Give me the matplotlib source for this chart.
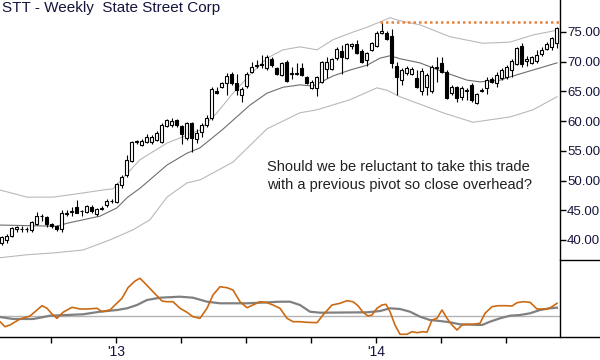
import numpy as np
import matplotlib
matplotlib.use("Agg")
import matplotlib.pyplot as plt
from matplotlib.lines import Line2D

plt.rcParams['font.family'] = ['Liberation Sans', 'DejaVu Sans']

# weekly OHLC, STT
opens = [39.5, 40.0, 40.7, 41.9, 41.8, 41.9, 41.6, 42.6, 44.0, 43.8,
         42.7, 42.3, 41.8, 44.3, 44.7, 45.5, 44.8, 44.7, 45.6, 44.4,
         45.2, 45.8, 46.5, 46.4, 49.3, 51.0, 53.3, 56.4, 56.0, 56.5,
         56.4, 56.8, 56.5, 59.2, 59.3, 60.2, 59.2, 57.2, 59.7, 57.0,
         58.2, 59.3, 60.5, 65.1, 65.7, 66.4, 67.9, 66.4, 64.4, 65.9,
         68.3, 69.3, 69.4, 68.9, 70.5, 68.9, 67.8, 70.0, 67.9, 68.0,
         68.9, 67.4, 65.6, 65.6, 66.6, 68.8, 68.8, 70.6, 71.8, 70.6,
         72.7, 73.0, 71.8, 70.3, 72.0, 72.6, 74.9, 74.8, 74.3, 69.3,
         66.9, 68.1, 67.9, 67.3, 65.1, 65.7, 65.1, 68.9, 69.8, 68.3,
         64.7, 65.7, 64.1, 65.1, 66.1, 63.0, 65.1, 65.6, 67.1, 66.4,
         67.3, 67.4, 68.6, 69.6, 72.6, 70.2, 69.8, 70.1, 71.3, 72.1,
         72.5, 73.1]
highs = [40.7, 41.0, 42.2, 42.4, 42.3, 42.2, 43.2, 44.7, 44.4, 44.1,
         42.9, 42.5, 45.0, 45.1, 45.5, 46.7, 45.1, 45.9, 45.8, 45.4,
         45.7, 46.9, 46.9, 49.6, 51.0, 54.3, 56.7, 56.8, 57.0, 57.8,
         57.6, 58.3, 59.7, 60.4, 60.5, 60.4, 59.3, 59.8, 59.9, 58.7,
         59.7, 61.0, 65.7, 65.7, 66.6, 68.1, 68.3, 67.9, 65.7, 68.3,
         70.0, 70.3, 71.1, 71.1, 70.8, 69.1, 70.0, 70.3, 69.1, 69.8,
         69.8, 67.6, 66.9, 67.6, 70.1, 70.8, 70.6, 72.5, 72.8, 73.1,
         73.1, 73.7, 72.1, 71.6, 73.3, 75.2, 76.7, 75.2, 75.5, 69.9,
         68.9, 69.3, 69.1, 68.6, 68.9, 68.1, 69.4, 70.8, 70.8, 68.6,
         66.1, 65.9, 65.9, 65.6, 66.4, 64.7, 65.6, 67.4, 67.4, 68.3,
         68.9, 69.4, 70.5, 72.5, 73.1, 71.0, 71.0, 72.0, 72.5, 73.3,
         74.2, 75.8]
lows = [39.2, 39.5, 40.5, 41.4, 41.4, 41.3, 41.3, 42.5, 43.2, 42.1,
        42.0, 41.5, 41.3, 44.0, 44.0, 44.5, 44.0, 44.5, 44.6, 44.0,
        45.0, 45.5, 46.2, 46.2, 48.7, 50.6, 53.1, 56.1, 55.8, 56.3,
        56.2, 56.6, 56.3, 59.0, 59.0, 59.0, 56.1, 56.8, 54.8, 56.3,
        57.3, 59.0, 60.2, 64.6, 65.6, 64.4, 66.1, 64.4, 63.2, 65.6,
        68.1, 68.9, 68.9, 68.6, 69.1, 67.8, 67.6, 66.6, 67.1, 67.8,
        67.6, 66.2, 65.4, 64.2, 66.4, 67.3, 68.6, 70.3, 67.9, 70.5,
        72.1, 71.3, 69.8, 69.3, 71.8, 72.5, 74.6, 73.7, 69.0, 64.4,
        66.1, 67.8, 67.8, 65.6, 64.4, 64.4, 64.7, 66.6, 68.1, 63.7,
        64.4, 63.2, 63.6, 63.6, 63.2, 62.9, 64.9, 64.6, 66.4, 65.7,
        66.9, 67.1, 67.4, 69.4, 69.1, 69.3, 69.6, 69.8, 71.0, 72.0,
        72.0, 72.3]
closes = [40.5, 40.7, 42.0, 42.1, 41.9, 41.8, 43.0, 44.1, 44.1, 42.6,
          42.3, 41.8, 44.5, 44.6, 44.9, 44.6, 44.9, 45.7, 44.8, 45.2,
          45.4, 46.6, 46.6, 49.4, 50.6, 53.5, 56.5, 56.6, 56.7, 57.3,
          57.3, 58.0, 59.3, 60.2, 60.0, 59.3, 57.8, 59.7, 57.2, 58.0,
          59.3, 60.5, 65.4, 64.7, 66.4, 67.6, 66.4, 65.2, 65.4, 67.9,
          69.1, 69.5, 69.6, 70.8, 69.4, 67.9, 69.8, 66.8, 68.1, 68.1,
          67.8, 66.4, 66.6, 67.4, 70.0, 70.0, 70.5, 72.1, 70.8, 73.0,
          72.9, 71.5, 69.9, 71.5, 73.1, 74.8, 75.1, 73.8, 69.8, 67.4,
          68.6, 68.9, 68.8, 65.7, 68.4, 67.8, 69.1, 69.1, 68.3, 63.9,
          65.7, 63.9, 65.6, 65.3, 63.6, 64.6, 65.3, 66.9, 66.6, 67.8,
          68.6, 69.1, 70.1, 72.3, 69.6, 70.4, 70.8, 71.1, 72.0, 73.0,
          74.0, 75.7]

# channel lines (week index, price)
mid_weeks = [0, 11.4, 13.4, 20, 23.4, 25.4, 28, 33.4, 37.4, 40, 44.4, 50, 53.4, 56.6, 60,
             62.6, 66.6, 70, 73.4, 76, 78, 80, 84, 88.6, 93.4, 96, 100, 103.4, 106.6, 111.4]
mid_vals = [42.5, 42.3, 42.8, 44.0, 45.4, 47.1, 48.7, 52.6, 54.6, 55.5, 58.5, 62.7, 64.7, 65.7, 66.1,
            65.9, 67.6, 68.6, 69.4, 70.6, 71.0, 70.5, 69.8, 68.3, 66.9, 66.6, 66.9, 67.8, 68.6, 69.8]
up_weeks = [0, 5.4, 10.6, 16.6, 20.6, 22.6, 28, 33.4, 40, 43.4, 46.6, 50, 53.4, 56.6, 60,
            63.4, 66.6, 70, 73.4, 76, 78, 80, 84, 90, 96.6, 102, 106.6, 111.4]
up_vals = [48.4, 47.2, 47.2, 47.9, 48.4, 48.6, 53.5, 56.3, 58.5, 61.4, 64.7, 67.8, 70.6, 72.0, 72.5,
           72.0, 73.7, 74.8, 75.8, 76.7, 77.4, 76.9, 76.2, 74.2, 73.1, 73.3, 74.5, 75.3]
lo_weeks = [0, 5.4, 10.6, 16.6, 22, 26.6, 30, 33.4, 37.4, 40, 46.6, 53.4, 60, 63.4, 70,
            75.4, 77.4, 80, 88.6, 94.6, 102, 106.6, 111.4]
lo_vals = [37.0, 37.5, 37.8, 38.3, 40.0, 41.7, 43.4, 47.2, 49.6, 50.1, 53.1, 58.7, 61.4, 61.9, 63.6,
           65.6, 65.2, 64.1, 61.4, 59.8, 60.7, 61.9, 64.1]

pivot_price = 76.7
pivot_start = 76

# lower panel oscillator and its signal line
osc_weeks = [0, 1, 2, 4, 6, 7.4, 8.4, 9.4, 10.4, 11.4,
             12.6, 14.4, 16, 17.4, 19.4, 20.4, 22, 23, 24.4, 25.6,
             27, 28, 29, 30.6, 32.4, 33.4, 34.6, 36, 37.4, 38.6,
             40, 41.4, 42.6, 44, 45.4, 46.6, 48, 49.4, 50.6, 52,
             53.4, 54.6, 56, 57.4, 58.6, 60, 61.4, 63.4, 64.6, 66.4,
             68, 69.4, 70.6, 71.6, 72.6, 73.6, 74.4, 75.4, 76.4, 77.2,
             78, 79, 80, 81.4, 82.4, 83.4, 84.6, 85.4, 86.4, 87.4,
             88.4, 89.4, 90.4, 91.4, 92.4, 93.4, 94.6, 96, 97, 98.4,
             99.6, 101, 102.4, 103.4, 104.6, 106, 107.4, 109.4, 110.4, 111.4]
osc_vals = [-5.7, -10.7, -9, -3, 0, 6, 10.3, 7.7, 2, -2.3,
            3.7, 8.7, 7, 7, 7.7, 4.3, 6, 11, 17.7, 28.3,
            35, 37.7, 32.7, 24.3, 15, 14.3, 14.3, 7.7, 3.7, -0.7,
            -2.3, 7.7, 21, 29.3, 28.3, 26, 14.3, 8.3, 11, 14.3,
            13.3, 11, 7.7, -2.3, -5.7, -5.7, -6.3, -6.7, 1, 11,
            12.7, 15.3, 14.3, 10.3, 3.7, 0, 1, 7.7, 11, 11.7,
            4.3, -9, -18.3, -18.3, -15.7, -16.7, -15.7, -16.3, -4, -2.3,
            6, -2.3, -9, -14, -9, -8.3, -8.3, -7.3, 2.7, 9.3,
            10.3, 10.3, 10, 13.3, 14.3, 13.7, 7, 7, 9.3, 12.7]
sig_weeks = [0, 2.6, 6.6, 8, 10, 13.4, 16.6, 20, 23.4, 25.4, 27.4, 29.4, 32, 36, 38.6,
             41.4, 44, 49.4, 52, 56, 58, 60, 62, 64, 73.4, 76, 78, 80, 82, 84,
             86, 88, 90, 92, 96.4, 98, 100, 102, 104, 106, 108, 110, 111.4]
sig_vals = [-1, -3, -3, -1.7, 0.3, 1, 1.7, 4.3, 6, 7.7, 11, 16, 18.3, 19.3, 18.3,
            14.3, 12.7, 12.7, 13.3, 14.3, 14.3, 11, 4.3, 3.3, 3.7, 5, 7.7, 7, 4.3, -0.7,
            -4, -5, -6.3, -8.3, -9, -5.7, -2.3, 0.3, 1, 2.7, 6, 7.7, 8.3]

tick_weeks = [10.2, 23.2, 36.2, 49.2, 62.2, 75.2, 88.2, 101.2]
tick_labels = ['', "'13", '', '', '', "'14", '', '']
price_ticks = [40, 45, 50, 55, 60, 65, 70, 75]

W, H = 600, 360
fig = plt.figure(figsize=(6, 3.6), dpi=100)
ax = fig.add_axes([0, 100 / H, 560 / W, 260 / H])
ax2 = fig.add_axes([0, 23 / H, 560 / W, 77 / H])

txt = '#14143c'

# main panel
o = np.array(opens); h = np.array(highs); l = np.array(lows); c = np.array(closes)
xs = np.arange(len(o)) + 0.3
ax.plot(up_weeks, up_vals, color='#b9b9b9', lw=0.8, zorder=1)
ax.plot(lo_weeks, lo_vals, color='#b9b9b9', lw=0.8, zorder=1)
ax.plot(mid_weeks, mid_vals, color='#6e6e6e', lw=0.8, zorder=1)
ax.vlines(xs, l, h, color='black', lw=0.8, zorder=2)
up = c >= o
bottoms = np.minimum(o, c)
heights = np.maximum(np.abs(c - o), 0.1)
ax.bar(xs, heights, bottom=bottoms, width=0.62,
       color=np.where(up, 'white', 'black'), edgecolor='black', linewidth=0.8, zorder=3)
ax.plot([pivot_start, 112], [pivot_price, pivot_price], color='#e8823a', lw=1.8,
        linestyle=(0, (1, 1.2)), zorder=4)

ax.set_xlim(0, 112)
ax.set_ylim(75 - 228 / 5.94, 75 + 32 / 5.94)
for s in ['top', 'left', 'bottom']:
    ax.spines[s].set_visible(False)
ax.spines['right'].set_linewidth(1)
ax.yaxis.tick_right()
ax.set_yticks(price_ticks)
ax.set_yticklabels(['%.2f' % p for p in price_ticks], fontsize=9.5, color=txt)
ax.tick_params(axis='y', direction='out', length=4, width=1, pad=1)
ax.set_xticks([])

ax.text(0.004, 0.995, 'STT - Weekly  State Street Corp', transform=ax.transAxes,
        ha='left', va='top', fontsize=11, color=txt)
ax.text(267 / 560, 1 - 160 / 260, 'Should we be reluctant to take this trade\nwith a previous pivot so close overhead?',
        transform=ax.transAxes, ha='left', va='top', fontsize=10.5, color='#202020',
        linespacing=1.35)

# lower panel
ax2.axhline(0, color='#b4b4b4', lw=1, zorder=1)
ax2.plot(sig_weeks, sig_vals, color='#808080', lw=1.6, zorder=2)
ax2.plot(osc_weeks, osc_vals, color='#cc6a14', lw=1.2, zorder=3)
ax2.set_xlim(0, 112)
ax2.set_ylim(-21, 56)
for s in ['top', 'left', 'bottom']:
    ax2.spines[s].set_visible(False)
ax2.spines['right'].set_linewidth(1)
ax2.set_yticks([])
ax2.set_xticks(tick_weeks)
ax2.set_xticklabels(tick_labels, fontsize=10, color=txt)
ax2.tick_params(axis='x', direction='out', length=4, width=1, pad=2)

# axis frame lines reaching into the label margin
fig.add_artist(Line2D([0, 1], [23 / H, 23 / H], color='black', lw=1))
fig.add_artist(Line2D([560 / W, 1], [100 / H, 100 / H], color='black', lw=1))

fig.savefig('out.png', dpi=100)
